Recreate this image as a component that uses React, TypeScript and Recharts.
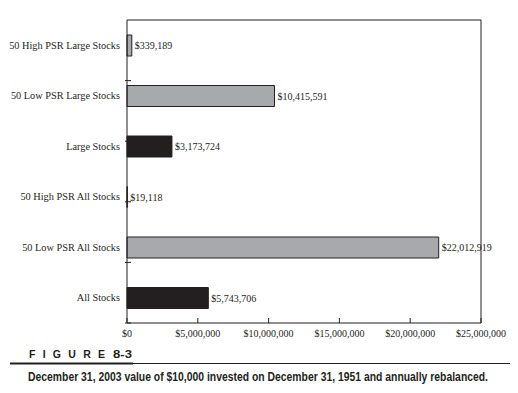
import React from 'react';
import { BarChart, Bar, XAxis, YAxis, Cell, LabelList, ReferenceLine } from 'recharts';

const categories = [
  '50 High PSR Large Stocks',
  '50 Low PSR Large Stocks',
  'Large Stocks',
  '50 High PSR All Stocks',
  '50 Low PSR All Stocks',
  'All Stocks',
];
const values = [339189, 10415591, 3173724, 19118, 22012919, 5743706];
const xTicks = [0, 5000000, 10000000, 15000000, 20000000, 25000000];
const figureLabel = 'FIGURE';
const figureNumber = '8-3';
const caption = 'December 31, 2003 value of $10,000 invested on December 31, 1951 and annually rebalanced.';

// style constants (kept separate from data)
const GRAY = '#a7a9ac';
const INK = '#231f20';
const BAR_FILLS = [GRAY, GRAY, INK, INK, GRAY, INK];
const SERIF = '"Liberation Serif", "DejaVu Serif", serif';
const SANS = '"Liberation Sans", Arial, sans-serif';

const data = categories.map((name, i) => ({ name, value: values[i] }));
const boundaryTicks = categories.slice(1).map((_, i) => i + 1);

const money = (v: number) => '$' + Number(v).toLocaleString('en-US');

const CategoryTick = (props: any) => {
  const { x, y, payload } = props;
  return (
    <text x={x} y={y} textAnchor="end" dominantBaseline="central" fontSize={10.3} fill={INK} fontFamily={SERIF}>
      {payload.value}
    </text>
  );
};

const BoundaryTick = (props: any) => {
  const { x, y } = props;
  return <line x1={x - 2} x2={x + 4} y1={y} y2={y} stroke={INK} strokeWidth={1} />;
};

export default function App() {
  return (
    <div style={{ position: 'absolute', left: 0, top: 0, width: 518, height: 393, background: '#fff' }}>
      <BarChart
        width={518}
        height={345}
        data={data}
        layout="vertical"
        margin={{ top: 20, right: 37, left: 0, bottom: 0 }}
      >
        <XAxis
          type="number"
          domain={[0, 25000000]}
          ticks={xTicks}
          tickFormatter={money}
          height={22}
          interval={0}
          tickSize={-5}
          tickMargin={12}
          axisLine={{ stroke: INK }}
          tickLine={{ stroke: INK }}
          tick={{ fontSize: 10, fill: INK, fontFamily: SERIF }}
        />
        <YAxis
          yAxisId="grid"
          type="number"
          domain={[0, 6]}
          allowDataOverflow
          ticks={boundaryTicks}
          interval={0}
          mirror
          width={1}
          axisLine={false}
          tickSize={0}
          tickMargin={0}
          tickLine={false}
          tick={<BoundaryTick />}
        />
        <YAxis
          yAxisId="cat"
          type="category"
          dataKey="name"
          width={127}
          tickLine={false}
          tickSize={6}
          tickMargin={1}
          interval={0}
          axisLine={{ stroke: INK }}
          tick={<CategoryTick />}
        />
        <ReferenceLine yAxisId="grid" x={25000000} stroke={INK} strokeWidth={1} />
        <ReferenceLine yAxisId="grid" y={6} stroke={INK} strokeWidth={1} />
        <ReferenceLine yAxisId="grid" y={0} stroke={INK} strokeWidth={1} />
        <Bar dataKey="value" yAxisId="cat" barSize={21} stroke={INK} strokeWidth={1} isAnimationActive={false}>
          {data.map((d, i) => (
            <Cell key={d.name} fill={BAR_FILLS[i]} />
          ))}
          <LabelList
            dataKey="value"
            position="right"
            offset={3}
            formatter={(v: any) => money(v)}
            style={{ fontSize: 10, fill: INK, fontFamily: SERIF }}
          />
        </Bar>
      </BarChart>
      <svg width={518} height={393} style={{ position: 'absolute', left: 0, top: 0, pointerEvents: 'none' }}>
        <text x={29} y={358} fontFamily={SANS} fontWeight="bold" fontSize={10.5} fill={INK} textLength={76} lengthAdjust="spacing">
          {figureLabel}
        </text>
        <text x={113} y={358} fontFamily={SANS} fontWeight="bold" fontSize={10.5} fill={INK} textLength={19} lengthAdjust="spacingAndGlyphs">
          {figureNumber}
        </text>
        <rect x={10} y={362.5} width={123} height={2} fill={INK} />
        <rect x={133} y={363} width={377} height={1} fill={INK} />
        <g transform="translate(28,380.5) scale(0.8,1)">
          <text x={0} y={0} fontFamily={SANS} fontWeight="bold" fontSize={12} fill={INK} textLength={575} lengthAdjust="spacingAndGlyphs">
            {caption}
          </text>
        </g>
      </svg>
    </div>
  );
}
